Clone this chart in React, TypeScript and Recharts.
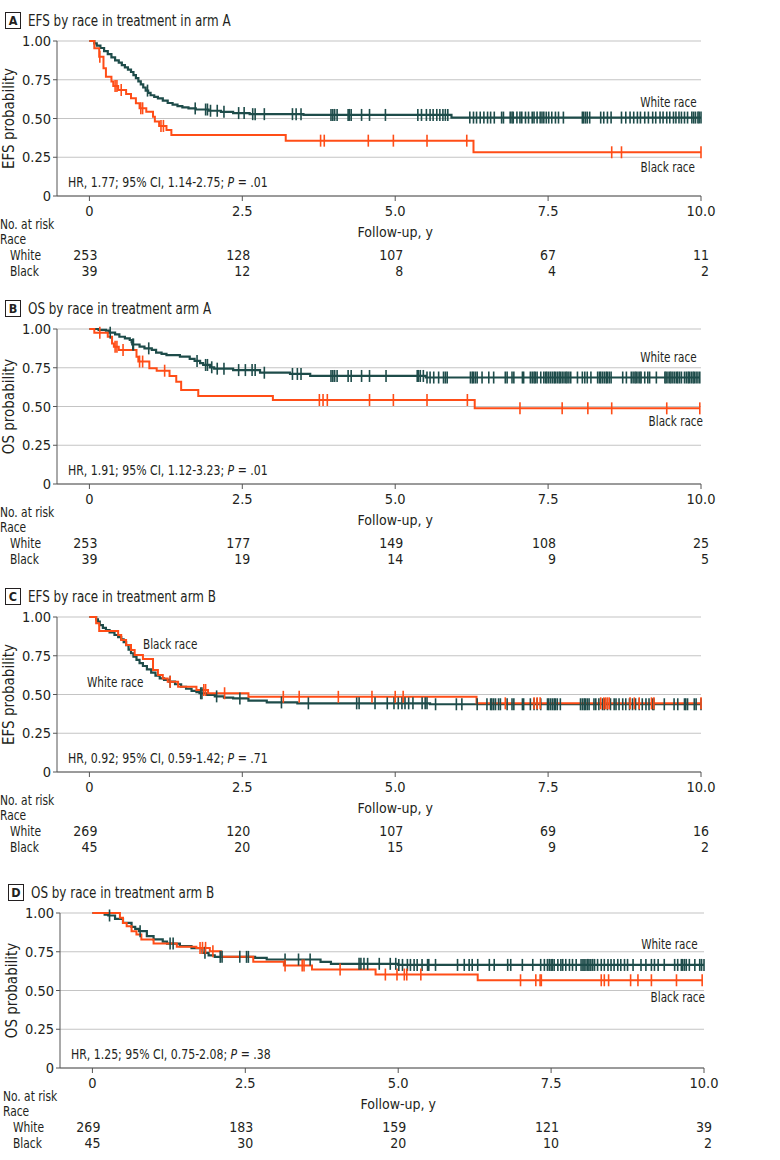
import React from "react";
import { ComposedChart, Line, XAxis, YAxis, CartesianGrid, Label } from "recharts";

type Step = [number, number];

const FONT = '"DejaVu Sans Condensed", "Liberation Sans Narrow", Roboto, sans-serif';
const INK = "#231f20";
const TEAL = "#1e4c4a";
const ORANGE = "#ff4d17";
const GRID = "#c4c4c4";
const AXIS = "#555555";

const YEAR_TICKS = [0, 2.5, 5, 7.5, 10];
const PROB_TICKS = [0, 0.25, 0.5, 0.75, 1];

// ---- Panel A: EFS, arm A ----
const efsArmAWhiteEvents: Step[] = [
  [0.08, 0.985], [0.12, 0.97], [0.18, 0.955], [0.24, 0.935], [0.3, 0.915], [0.36, 0.895],
  [0.42, 0.875], [0.48, 0.86], [0.53, 0.845], [0.58, 0.83], [0.63, 0.815], [0.68, 0.8],
  [0.72, 0.78], [0.76, 0.76], [0.8, 0.74], [0.84, 0.72], [0.88, 0.7], [0.92, 0.68],
  [0.96, 0.665], [1.0, 0.65], [1.06, 0.64], [1.12, 0.63], [1.2, 0.615], [1.28, 0.6],
  [1.36, 0.59], [1.44, 0.58], [1.52, 0.572], [1.62, 0.565], [1.74, 0.558], [1.95, 0.55],
  [2.15, 0.543], [2.35, 0.535], [2.62, 0.528], [3.5, 0.523], [5.92, 0.506],
];
const efsArmAWhiteCensored = [
  0.95, 1.73, 1.9, 1.93, 1.98, 2.09, 2.2, 2.44, 2.53, 2.67, 2.71, 2.86, 3.32, 3.38, 3.46,
  3.95, 3.98, 4.01, 4.05, 4.23, 4.25, 4.28, 4.45, 4.58, 4.84, 5.37, 5.43, 5.51, 5.57, 5.62,
  5.68, 5.73, 5.78, 5.82, 5.86, 6.22, 6.28, 6.33, 6.39, 6.45, 6.51, 6.56, 6.62, 6.74, 6.77,
  6.88, 6.91, 6.93, 6.99, 7.04, 7.07, 7.13, 7.18, 7.24, 7.27, 7.32, 7.37, 7.4, 7.43, 7.47,
  7.51, 7.56, 7.62, 7.67, 7.75, 8.06, 8.08, 8.11, 8.14, 8.18, 8.36, 8.41, 8.47, 8.53, 8.7,
  8.77, 8.84, 8.9, 8.96, 9.01, 9.08, 9.14, 9.21, 9.26, 9.33, 9.38, 9.44, 9.49, 9.55, 9.59,
  9.64, 9.68, 9.73, 9.78, 9.85, 9.88, 9.91, 9.95, 9.97, 10.0,
];
const efsArmABlackEvents: Step[] = [
  [0.08, 0.953], [0.16, 0.899], [0.23, 0.824], [0.27, 0.77], [0.36, 0.738], [0.39, 0.71],
  [0.47, 0.684], [0.6, 0.658], [0.68, 0.63], [0.76, 0.598], [0.82, 0.566], [0.93, 0.544],
  [1.04, 0.512], [1.07, 0.48], [1.14, 0.452], [1.26, 0.426], [1.34, 0.394], [3.21, 0.357],
  [6.28, 0.282],
];
const efsArmABlackCensored = [
  0.17, 0.42, 0.45, 0.52, 0.84, 0.87, 1.17, 1.21, 3.78, 3.84, 4.56, 4.97, 5.52, 6.17, 8.54,
  8.7, 10.0,
];
const efsArmARiskWhite = [253, 128, 107, 67, 11];
const efsArmARiskBlack = [39, 12, 8, 4, 2];

// ---- Panel B: OS, arm A ----
const osArmAWhiteEvents: Step[] = [
  [0.15, 0.995], [0.27, 0.989], [0.32, 0.976], [0.42, 0.965], [0.49, 0.95], [0.58, 0.94],
  [0.66, 0.929], [0.69, 0.915], [0.7, 0.9], [0.82, 0.886], [0.9, 0.875], [1.02, 0.865],
  [1.09, 0.847], [1.18, 0.84], [1.26, 0.832], [1.48, 0.822], [1.64, 0.807], [1.72, 0.794],
  [1.81, 0.78], [1.86, 0.768], [1.97, 0.753], [2.04, 0.744], [2.35, 0.735], [2.79, 0.718],
  [3.28, 0.71], [3.61, 0.697], [5.5, 0.687],
];
const osArmAWhiteCensored = [
  0.34, 0.71, 0.72, 0.97, 1.76, 1.9, 1.93, 2.0, 2.09, 2.2, 2.44, 2.55, 2.66, 2.71, 2.86,
  3.32, 3.4, 3.46, 3.95, 3.98, 4.01, 4.05, 4.23, 4.28, 4.45, 4.58, 4.85, 5.36, 5.38, 5.41,
  5.46, 5.52, 5.57, 5.63, 5.71, 5.79, 5.82, 5.85, 6.23, 6.26, 6.28, 6.31, 6.34, 6.42, 6.53,
  6.61, 6.8, 6.83, 6.91, 6.94, 7.08, 7.1, 7.21, 7.24, 7.27, 7.29, 7.32, 7.38, 7.43, 7.46,
  7.48, 7.51, 7.54, 7.57, 7.6, 7.62, 7.65, 7.68, 7.7, 7.73, 7.76, 7.79, 7.81, 7.84, 7.87,
  7.98, 8.06, 8.1, 8.14, 8.2, 8.31, 8.34, 8.36, 8.39, 8.42, 8.45, 8.47, 8.5, 8.53, 8.72,
  8.78, 8.86, 8.89, 8.92, 8.94, 8.97, 9.0, 9.02, 9.08, 9.13, 9.16, 9.27, 9.41, 9.43, 9.46,
  9.49, 9.51, 9.54, 9.57, 9.6, 9.62, 9.65, 9.68, 9.73, 9.76, 9.79, 9.81, 9.84, 9.87, 9.89,
  9.92, 9.95, 9.98,
];
const osArmABlackEvents: Step[] = [
  [0.08, 0.976], [0.3, 0.95], [0.37, 0.907], [0.4, 0.886], [0.48, 0.865], [0.77, 0.821],
  [0.8, 0.79], [0.98, 0.746], [1.1, 0.731], [1.31, 0.697], [1.42, 0.66], [1.5, 0.606],
  [1.78, 0.568], [3.0, 0.542], [6.3, 0.488],
];
const osArmABlackCensored = [
  0.17, 0.42, 0.45, 0.55, 0.82, 0.87, 1.23, 3.76, 3.82, 3.89, 4.58, 4.97, 5.52, 6.18, 7.04,
  7.73, 8.15, 8.54, 9.44, 9.98,
];
const osArmARiskWhite = [253, 177, 149, 108, 25];
const osArmARiskBlack = [39, 19, 14, 9, 5];

// ---- Panel C: EFS, arm B ----
const efsArmBWhiteEvents: Step[] = [
  [0.11, 0.985], [0.14, 0.97], [0.17, 0.948], [0.22, 0.93], [0.27, 0.916], [0.33, 0.9],
  [0.41, 0.884], [0.47, 0.87], [0.52, 0.856], [0.56, 0.838], [0.6, 0.819], [0.64, 0.79],
  [0.68, 0.766], [0.72, 0.745], [0.77, 0.723], [0.82, 0.703], [0.875, 0.684], [0.94, 0.662],
  [1.01, 0.641], [1.08, 0.622], [1.15, 0.604], [1.22, 0.594], [1.3, 0.583], [1.4, 0.566],
  [1.5, 0.55], [1.58, 0.537], [1.67, 0.523], [1.75, 0.515], [1.8, 0.508], [1.92, 0.497],
  [2.05, 0.488], [2.2, 0.48], [2.35, 0.475], [2.6, 0.46], [2.9, 0.449], [3.4, 0.443],
  [5.57, 0.437],
];
const efsArmBWhiteCensored = [
  1.32, 1.82, 1.84, 2.08, 2.46, 3.14, 3.58, 4.37, 4.41, 4.67, 4.87, 4.98, 5.05, 5.11, 5.16,
  5.22, 5.29, 5.44, 5.49, 5.52, 5.66, 6.0, 6.09, 6.34, 6.5, 6.56, 6.58, 6.61, 6.64, 6.69,
  6.72, 6.83, 6.91, 6.94, 7.08, 7.1, 7.21, 7.27, 7.32, 7.38, 7.49, 7.51, 7.54, 7.57, 7.6,
  7.62, 7.65, 7.7, 8.03, 8.06, 8.09, 8.11, 8.14, 8.17, 8.25, 8.28, 8.33, 8.39, 8.42, 8.47,
  8.52, 8.58, 8.61, 8.66, 8.72, 8.77, 8.83, 8.88, 8.93, 8.99, 9.04, 9.1, 9.15, 9.21, 9.23,
  9.4, 9.56, 9.62, 9.73, 9.75, 9.78, 9.89, 9.92, 10.0,
];
const efsArmBBlackEvents: Step[] = [
  [0.11, 0.959], [0.16, 0.91], [0.47, 0.884], [0.52, 0.852], [0.6, 0.819], [0.68, 0.787],
  [0.74, 0.755], [0.875, 0.729], [1.04, 0.658], [1.12, 0.626], [1.2, 0.604], [1.28, 0.583],
  [1.45, 0.55], [1.75, 0.529], [1.94, 0.508], [2.6, 0.485], [6.33, 0.443],
];
const efsArmBBlackCensored = [
  1.32, 1.87, 1.9, 2.21, 3.17, 3.43, 4.07, 4.62, 5.0, 5.13, 6.8, 7.27, 7.32, 7.37, 8.36,
  8.41, 8.44, 8.47, 8.5, 8.84, 8.91, 8.99, 9.19, 9.23, 10.0,
];
const efsArmBRiskWhite = [269, 120, 107, 69, 16];
const efsArmBRiskBlack = [45, 20, 15, 9, 2];

// ---- Panel D: OS, arm B ----
const osArmBWhiteEvents: Step[] = [
  [0.2, 0.99], [0.26, 0.984], [0.37, 0.962], [0.5, 0.936], [0.64, 0.911], [0.7, 0.897],
  [0.76, 0.883], [0.89, 0.851], [1.0, 0.83], [1.15, 0.815], [1.22, 0.803], [1.43, 0.786],
  [1.62, 0.773], [1.8, 0.743], [1.9, 0.726], [2.0, 0.717], [2.66, 0.711], [2.85, 0.7],
  [3.73, 0.685], [3.9, 0.672], [5.0, 0.665],
];
const osArmBWhiteCensored = [
  0.28, 0.78, 1.27, 1.32, 1.84, 2.09, 2.12, 2.41, 2.52, 2.55, 3.15, 3.37, 3.56, 4.36, 4.39,
  4.44, 4.5, 4.69, 4.87, 4.96, 5.01, 5.07, 5.15, 5.2, 5.26, 5.31, 5.39, 5.48, 5.5, 5.61,
  5.97, 6.08, 6.16, 6.21, 6.3, 6.49, 6.57, 6.79, 6.84, 7.03, 7.2, 7.33, 7.39, 7.44, 7.47,
  7.5, 7.52, 7.55, 7.61, 7.66, 7.69, 7.74, 7.8, 7.85, 7.91, 7.99, 8.02, 8.04, 8.07, 8.1,
  8.12, 8.15, 8.18, 8.21, 8.26, 8.32, 8.37, 8.43, 8.48, 8.53, 8.59, 8.64, 8.7, 8.75, 8.84,
  8.97, 9.05, 9.14, 9.19, 9.25, 9.35, 9.52, 9.57, 9.63, 9.65, 9.68, 9.71, 9.76, 9.85, 9.93,
  9.96, 10.0,
];
const osArmBBlackEvents: Step[] = [
  [0.45, 0.969], [0.5, 0.936], [0.56, 0.915], [0.64, 0.883], [0.72, 0.861], [0.8, 0.829],
  [1.0, 0.803], [1.38, 0.782], [1.7, 0.775], [1.92, 0.754], [2.1, 0.718], [2.63, 0.685],
  [3.13, 0.661], [3.59, 0.636], [4.63, 0.603], [6.3, 0.566],
];
const osArmBBlackCensored = [
  1.76, 1.8, 1.85, 1.97, 3.15, 3.43, 3.46, 4.05, 4.79, 4.98, 5.1, 5.14, 5.37, 7.0, 7.25,
  7.32, 7.34, 8.32, 8.37, 8.44, 8.8, 8.92, 9.14, 9.55, 9.97,
];
const osArmBRiskWhite = [269, 183, 159, 121, 39];
const osArmBRiskBlack = [45, 30, 20, 10, 2];

type Row = { t: number; s: number; c: boolean };

// Kaplan-Meier step rows: censored times sit on the current survival level
function buildCurve(events: Step[], censored: number[]): Row[] {
  const rows: Row[] = [
    { t: 0, s: 1, c: false },
    ...events.map(([t, s]) => ({ t, s, c: false })),
    ...censored.map((t) => ({ t, s: 1, c: true })),
  ].sort((a, b) => a.t - b.t || (a.c ? 1 : -1));
  let level = 1;
  return rows.map((r) => {
    if (r.c) return { ...r, s: level };
    level = r.s;
    return r;
  });
}

const censorDot = (color: string) => (props: any) => {
  const { cx, cy, payload, index } = props;
  if (!payload || !payload.c) return <g key={index} />;
  return (
    <line key={index} x1={cx} x2={cx} y1={cy - 6} y2={cy + 6} stroke={color} strokeWidth={1.6} />
  );
};

// narrow text: condensed face squeezed a little further
const narrow = (k: number, origin: "left" | "right") => ({
  transform: `translateY(-50%) scaleX(${k})`,
  transformOrigin: origin === "left" ? "left center" : "right center",
});

type Note = { text: string; x: number; y: number; align: "left" | "right" };

type PanelProps = {
  top: number;
  shift: number;
  letter: string;
  title: string;
  yLabel: string;
  hr: [string, string];
  white: Row[];
  black: Row[];
  riskWhite: number[];
  riskBlack: number[];
  notes: Note[];
};

function Panel(p: PanelProps) {
  const renderTick = (props: any) => {
    const { x, y, payload } = props;
    const v = payload.value as number;
    const i = YEAR_TICKS.indexOf(v);
    const base = y - 7;
    const txt = { fontFamily: FONT, fontSize: 14, fill: INK, dominantBaseline: "central" as const };
    const row = (label: string, dx: number, dy: number) => (
      <text {...txt} fontSize={13.5} transform={`translate(${p.shift + dx},${base + dy}) scale(0.88,1)`}>
        {label}
      </text>
    );
    return (
      <g>
        <text {...txt} fontSize={14.5} x={x} y={base + 15} textAnchor="middle">
          {v === 0 ? "0" : v.toFixed(1)}
        </text>
        {v === 5 && (
          <text {...txt} x={x} y={base + 36} textAnchor="middle">
            Follow-up, y
          </text>
        )}
        {v === 0 && (
          <>
            {row("No. at risk", 0, 28)}
            {row("Race", 0, 43)}
            {row("White", 10, 59)}
            {row("Black", 10, 75)}
          </>
        )}
        <text {...txt} x={x + 8} y={base + 59} textAnchor="end">{p.riskWhite[i]}</text>
        <text {...txt} x={x + 8} y={base + 75} textAnchor="end">{p.riskBlack[i]}</text>
      </g>
    );
  };

  return (
    <div style={{ position: "absolute", left: 0, top: p.top, width: 780, height: 288 }}>
      <ComposedChart
        width={780}
        height={288}
        margin={{ top: 41, right: 79 - p.shift, bottom: 0, left: p.shift }}
      >
        <CartesianGrid vertical={false} stroke={GRID} strokeWidth={1.2} />
        <XAxis
          type="number"
          dataKey="t"
          domain={[-0.53, 10]}
          ticks={YEAR_TICKS}
          interval={0}
          height={92}
          tickSize={5}
          tickMargin={2}
          stroke={AXIS}
          tick={renderTick}
        />
        <YAxis
          type="number"
          domain={[0, 1]}
          ticks={PROB_TICKS}
          width={57}
          tickSize={4}
          tickMargin={2}
          stroke={AXIS}
          tick={{ fontFamily: FONT, fontSize: 14.5, fill: INK }}
          tickFormatter={(v: number) => (v === 0 ? "0" : v.toFixed(2))}
        >
          <Label
            value={p.yLabel}
            angle={-90}
            position="insideLeft"
            offset={9}
            style={{ textAnchor: "middle", fontFamily: FONT, fontSize: 15, fill: INK }}
          />
        </YAxis>
        <Line
          data={p.white}
          dataKey="s"
          type="stepAfter"
          stroke={TEAL}
          strokeWidth={2.2}
          dot={censorDot(TEAL)}
          activeDot={false}
          isAnimationActive={false}
        />
        <Line
          data={p.black}
          dataKey="s"
          type="stepAfter"
          stroke={ORANGE}
          strokeWidth={2}
          dot={censorDot(ORANGE)}
          activeDot={false}
          isAnimationActive={false}
        />
      </ComposedChart>

      <div
        style={{
          position: "absolute",
          left: 5 + p.shift,
          top: 12,
          width: 14,
          height: 15,
          border: `1.5px solid ${INK}`,
          fontFamily: FONT,
          fontWeight: 700,
          fontSize: 12.5,
          lineHeight: "15px",
          textAlign: "center",
          color: INK,
        }}
      >
        {p.letter}
      </div>
      <div
        style={{
          position: "absolute",
          left: 28 + p.shift,
          top: 20,
          fontFamily: FONT,
          fontSize: 16,
          color: INK,
          whiteSpace: "nowrap",
          ...narrow(0.83, "left"),
        }}
      >
        {p.title}
      </div>
      <div
        style={{
          position: "absolute",
          left: 68 + p.shift,
          top: 182,
          fontFamily: FONT,
          fontSize: 13.5,
          color: INK,
          whiteSpace: "nowrap",
          ...narrow(0.9, "left"),
        }}
      >
        {p.hr[0]}
        <i>P</i>
        {p.hr[1]}
      </div>
      {p.notes.map((n) => (
        <div
          key={n.text}
          style={{
            position: "absolute",
            top: n.y,
            fontFamily: FONT,
            fontSize: 14.5,
            color: INK,
            whiteSpace: "nowrap",
            ...(n.align === "right" ? { right: 780 - n.x } : { left: n.x }),
            ...narrow(0.8, n.align),
          }}
        >
          {n.text}
        </div>
      ))}
    </div>
  );
}

export default function App() {
  return (
    <div
      style={{
        position: "absolute",
        left: 0,
        top: 0,
        width: 780,
        height: 1160,
        background: "#ffffff",
        overflow: "hidden",
      }}
    >
      <Panel
        top={0}
        shift={0}
        letter="A"
        title="EFS by race in treatment in arm A"
        yLabel="EFS probability"
        hr={["HR, 1.77; 95% CI, 1.14-2.75; ", " = .01"]}
        white={buildCurve(efsArmAWhiteEvents, efsArmAWhiteCensored)}
        black={buildCurve(efsArmABlackEvents, efsArmABlackCensored)}
        riskWhite={efsArmARiskWhite}
        riskBlack={efsArmARiskBlack}
        notes={[
          { text: "White race", x: 697, y: 102, align: "right" },
          { text: "Black race", x: 695, y: 167, align: "right" },
        ]}
      />
      <Panel
        top={288}
        shift={0}
        letter="B"
        title="OS by race in treatment arm A"
        yLabel="OS probability"
        hr={["HR, 1.91; 95% CI, 1.12-3.23; ", " = .01"]}
        white={buildCurve(osArmAWhiteEvents, osArmAWhiteCensored)}
        black={buildCurve(osArmABlackEvents, osArmABlackCensored)}
        riskWhite={osArmARiskWhite}
        riskBlack={osArmARiskBlack}
        notes={[
          { text: "White race", x: 697, y: 69, align: "right" },
          { text: "Black race", x: 703, y: 133, align: "right" },
        ]}
      />
      <Panel
        top={576}
        shift={0}
        letter="C"
        title="EFS by race in treatment arm B"
        yLabel="EFS probability"
        hr={["HR, 0.92; 95% CI, 0.59-1.42; ", " = .71"]}
        white={buildCurve(efsArmBWhiteEvents, efsArmBWhiteCensored)}
        black={buildCurve(efsArmBBlackEvents, efsArmBBlackCensored)}
        riskWhite={efsArmBRiskWhite}
        riskBlack={efsArmBRiskBlack}
        notes={[
          { text: "Black race", x: 143, y: 68, align: "left" },
          { text: "White race", x: 87, y: 106, align: "left" },
        ]}
      />
      <Panel
        top={872}
        shift={3}
        letter="D"
        title="OS by race in treatment arm B"
        yLabel="OS probability"
        hr={["HR, 1.25; 95% CI, 0.75-2.08; ", " = .38"]}
        white={buildCurve(osArmBWhiteEvents, osArmBWhiteCensored)}
        black={buildCurve(osArmBBlackEvents, osArmBBlackCensored)}
        riskWhite={osArmBRiskWhite}
        riskBlack={osArmBRiskBlack}
        notes={[
          { text: "White race", x: 698, y: 72, align: "right" },
          { text: "Black race", x: 705, y: 125, align: "right" },
        ]}
      />
    </div>
  );
}
